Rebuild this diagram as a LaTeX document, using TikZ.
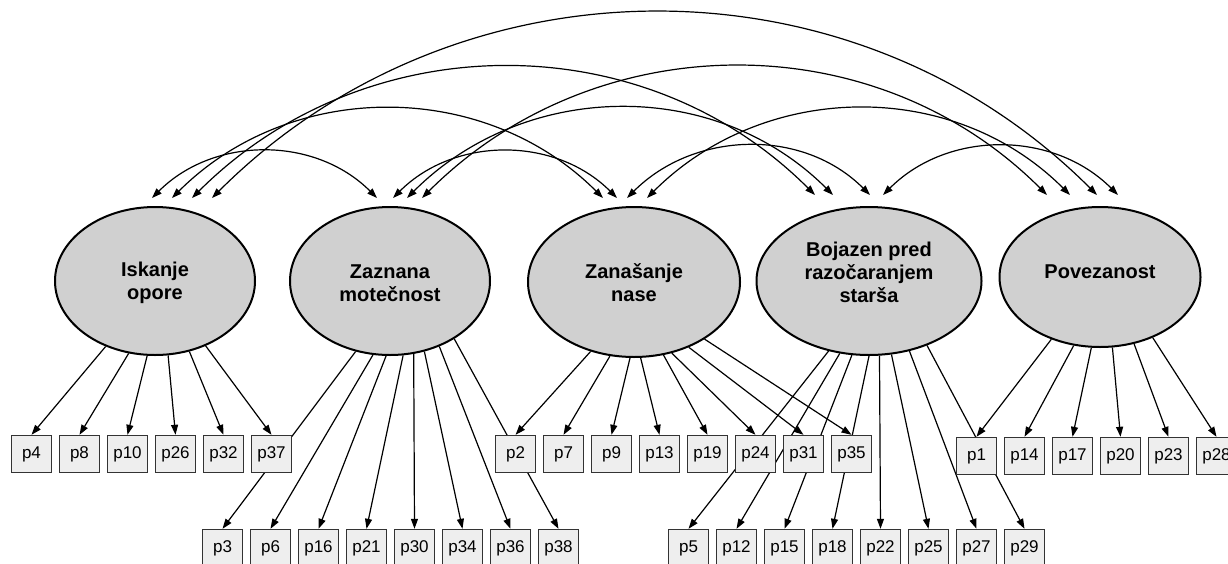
\documentclass[tikz,border=0pt]{standalone}
\usepackage{fontspec}
\setmainfont{Liberation Sans}
\usetikzlibrary{arrows.meta,shapes.geometric}
\pgfdeclarelayer{bg}
\pgfsetlayers{bg,main}
\definecolor{latfill}{RGB}{208,208,208}
\definecolor{obsfill}{RGB}{238,238,238}
\definecolor{obsdraw}{RGB}{51,51,51}
\begin{document}
\begin{tikzpicture}[x=1pt,y=-1pt,
  factor/.style={ellipse, draw=black, line width=2pt, fill=latfill, inner sep=0pt},
  ftext/.style={font=\bfseries\fontsize{20}{23}\selectfont, align=center, inner sep=0pt},
  obs/.style={rectangle, draw=obsdraw, line width=1.4pt, fill=obsfill, minimum width=40pt, minimum height=37pt, inner sep=0pt, font=\fontsize{17}{20}\selectfont},
  load/.style={line width=1.2pt, -{Triangle[length=10pt,width=7pt]}},
  cov/.style={line width=1.2pt, {Triangle[length=10pt,width=7pt]}-{Triangle[length=10pt,width=7pt]}, out=45, in=135}
]
\useasboundingbox (0,0) rectangle (1228,563);
\clip (0,0) rectangle (1228,563);

% latent factors
\node[factor, minimum width=200pt, minimum height=148pt] (I) at (155,281) {};
\node[factor, minimum width=200pt, minimum height=148pt] (Z) at (390,281) {};
\node[factor, minimum width=212pt, minimum height=150pt] (N) at (634,282) {};
\node[factor, minimum width=225pt, minimum height=148pt] (B) at (869,281) {};
\node[factor, minimum width=201pt, minimum height=140pt] (P) at (1100,277) {};

\node[ftext] (It) at (155,283) {Iskanje\\opore};
\node[ftext] (Zt) at (390,283) {Zaznana\\motečnost};
\node[ftext] (Nt) at (634,283) {Zanašanje\\nase};
\node[ftext] (Bt) at (869,272) {Bojazen pred\\razočaranjem\\starša};
\node[ftext] (Pt) at (1100,272) {Povezanost};

% observed variables
\foreach \n [count=\i from 0] in {p4,p8,p10,p26,p32,p37}
  \node[obs] (\n) at (31.5+48*\i,454) {\n};
\foreach \n [count=\i from 0] in {p2,p7,p9,p13,p19,p24,p31,p35}
  \node[obs] (\n) at (515.5+48*\i,454) {\n};
\foreach \n [count=\i from 0] in {p1,p14,p17,p20,p23,p28}
  \node[obs] (\n) at (976.5+48*\i,456) {\n};
\foreach \n [count=\i from 0] in {p3,p6,p16,p21,p30,p34,p36,p38}
  \node[obs] (\n) at (222.5+48*\i,548) {\n};
\foreach \n [count=\i from 0] in {p5,p12,p15,p18,p22,p25,p27,p29}
  \node[obs] (\n) at (688.5+48*\i,548) {\n};

% arc end points
\coordinate (Ia) at (152,198); \coordinate (Ib) at (172,198);
\coordinate (Ic) at (192,198); \coordinate (Id) at (212,198);
\coordinate (Za) at (377,198); \coordinate (Zb) at (393,198);
\coordinate (Zc) at (407,198); \coordinate (Zd) at (422,198);
\coordinate (Na) at (603,198); \coordinate (Nb) at (617,198);
\coordinate (Nc) at (627,198); \coordinate (Nd) at (647,198);
\coordinate (Ba) at (815,195); \coordinate (Bb) at (833,195);
\coordinate (Bc) at (870,195); \coordinate (Bd) at (883,195);
\coordinate (Pa) at (1047,195); \coordinate (Pb) at (1070,195);
\coordinate (Pc) at (1097,195); \coordinate (Pd) at (1118,195);

\begin{pgfonlayer}{bg}
  \foreach \b/\a in {p4/-127.2,p8/-110.7,p10/-96.2,p26/-80,p32/-64.7,p37/-52}
    \draw[load] (I.\a) -- (\b.north);
  \foreach \b/\a in {p3/-116.8,p6/-103.1,p16/-93.9,p21/-80,p30/-72.3,p34/-64.7,p36/-53.5,p38/-42.4}
    \draw[load] (Z.\a) -- (\b.north);
  \foreach \b/\a in {p2/-122.8,p7/-108.2,p9/-93.1,p13/-85.4,p19/-68.8,p24/-62.9,p31/-50.1,p35/-39.5}
    \draw[load] (N.\a) -- (\b.north);
  \foreach \b/\a in {p5/-120.8,p12/-112.1,p15/-103.1,p18/-90.8,p22/-82.3,p25/-73.9,p27/-60.7,p29/-48.9}
    \draw[load] (B.\a) -- (\b.north);
  \foreach \b/\a in {p1/-128.8,p14/-111,p17/-97.4,p20/-80.2,p23/-63.5,p28/-49}
    \draw[load] (P.\a) -- (\b.north);

  \draw[cov] (Ia) to (Za);
  \draw[cov] (Ib) to (Na);
  \draw[cov] (Ic) to (Ba);
  \draw[cov] (Id) to (Pc);
  \draw[cov] (Zb) to (Nb);
  \draw[cov] (Zc) to (Bb);
  \draw[cov] (Zd) to (Pa);
  \draw[cov] (Nc) to (Bc);
  \draw[cov] (Nd) to (Pb);
  \draw[cov] (Bd) to (Pd);
\end{pgfonlayer}
\end{tikzpicture}
\end{document}
